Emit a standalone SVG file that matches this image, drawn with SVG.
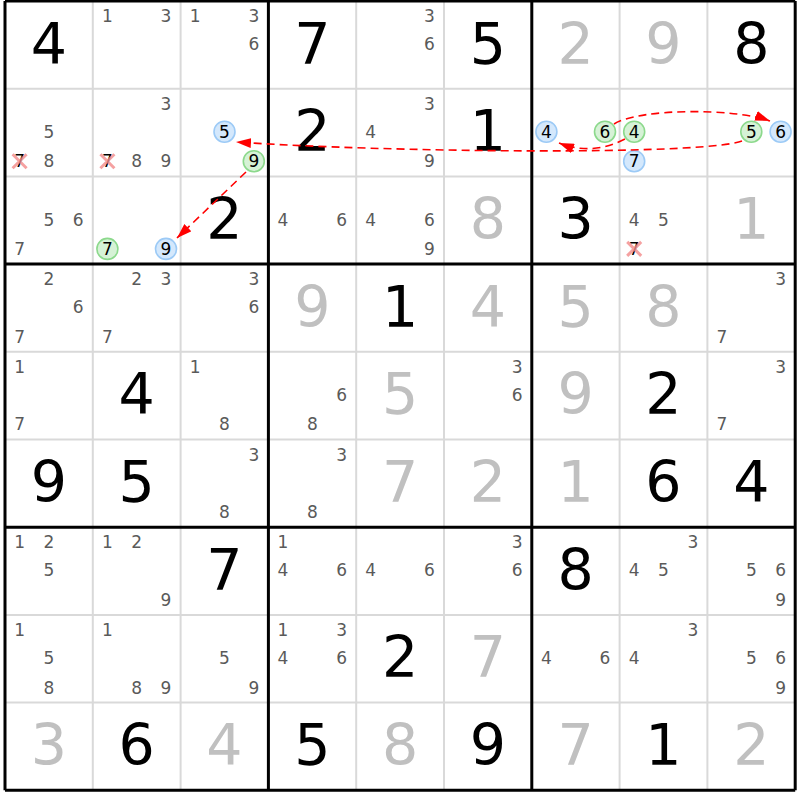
<svg xmlns="http://www.w3.org/2000/svg" width="800" height="800" viewBox="0 0 800 800">
<defs>
<style>
text{font-family:"DejaVu Sans","Liberation Sans",sans-serif;text-anchor:middle}
.g{font-size:57px;fill:#000}
.s{font-size:57px;fill:#c0c0c0}
.c{font-size:17px;fill:#5a5a5a}
.h{font-size:17px;fill:#000}
.cb{fill:#d4e8fc;stroke:#9ccaf6;stroke-width:1.6}
.cg{fill:#d6f2d6;stroke:#8cd98c;stroke-width:1.6}
.x{stroke:#f28a8a;stroke-width:3;stroke-opacity:0.8}
.thin{stroke:#d9d9d9;stroke-width:2}
.thick{stroke:#000;stroke-width:3}
.link{fill:none;stroke:#ff0000;stroke-width:1.6;stroke-dasharray:8,5;marker-end:url(#ah)}
</style>
<marker id="ah" markerUnits="userSpaceOnUse" markerWidth="15" markerHeight="10" refX="15" refY="5" orient="auto">
<path d="M0,0 L15,5 L0,10 z" fill="#ff0000"/>
</marker>
</defs>
<rect width="800" height="800" fill="#fff"/>
<g id="grid">
<path class="thin" d="M92.8,1V790.3M180.6,1V790.3M356.2,1V790.3M444,1V790.3M619.6,1V790.3M707.4,1V790.3M5,88.7H795.2M5,176.4H795.2M5,351.8H795.2M5,439.5H795.2M5,614.9H795.2M5,702.6H795.2"/>
<path class="thick" d="M5,1V790.3M268.4,1V790.3M531.8,1V790.3M795.2,1V790.3M5,1H795.2M5,264.1H795.2M5,527.2H795.2M5,790.3H795.2"/>
</g>
<g id="cells">
<!-- Row 1 -->
<g id="r1c1" transform="translate(5,1)"><text class="g" x="43.9" y="62.5">4</text></g>
<g id="r1c2" transform="translate(92.8,1)"><text class="c" x="14.6" y="21.2">1</text><text class="c" x="73.2" y="21.2">3</text></g>
<g id="r1c3" transform="translate(180.6,1)"><text class="c" x="14.6" y="21.2">1</text><text class="c" x="73.2" y="21.2">3</text><text class="c" x="73.2" y="49.2">6</text></g>
<g id="r1c4" transform="translate(268.4,1)"><text class="g" x="43.9" y="62.5">7</text></g>
<g id="r1c5" transform="translate(356.2,1)"><text class="c" x="73.2" y="21.2">3</text><text class="c" x="73.2" y="49.2">6</text></g>
<g id="r1c6" transform="translate(444,1)"><text class="g" x="43.9" y="62.5">5</text></g>
<g id="r1c7" transform="translate(531.8,1)"><text class="s" x="43.9" y="62.5">2</text></g>
<g id="r1c8" transform="translate(619.6,1)"><text class="s" x="43.9" y="62.5">9</text></g>
<g id="r1c9" transform="translate(707.4,1)"><text class="g" x="43.9" y="62.5">8</text></g>
<!-- Row 2 -->
<g id="r2c1" transform="translate(5,88.7)"><text class="c" x="43.9" y="49.2">5</text><text class="h" x="14.6" y="78.7">7</text><path class="x" d="M7.6,65.5L21.6,79.5M21.6,65.5L7.6,79.5"/><text class="c" x="43.9" y="78.7">8</text></g>
<g id="r2c2" transform="translate(92.8,88.7)"><text class="c" x="73.2" y="21.2">3</text><text class="h" x="14.6" y="78.7">7</text><path class="x" d="M7.6,65.5L21.6,79.5M21.6,65.5L7.6,79.5"/><text class="c" x="43.9" y="78.7">8</text><text class="c" x="73.2" y="78.7">9</text></g>
<g id="r2c3" transform="translate(180.6,88.7)"><circle class="cb" cx="43.9" cy="43" r="10.5"/><text class="h" x="43.9" y="49.2">5</text><circle class="cg" cx="73.2" cy="72.5" r="10.5"/><text class="h" x="73.2" y="78.7">9</text></g>
<g id="r2c4" transform="translate(268.4,88.7)"><text class="g" x="43.9" y="62.5">2</text></g>
<g id="r2c5" transform="translate(356.2,88.7)"><text class="c" x="73.2" y="21.2">3</text><text class="c" x="14.6" y="49.2">4</text><text class="c" x="73.2" y="78.7">9</text></g>
<g id="r2c6" transform="translate(444,88.7)"><text class="g" x="43.9" y="62.5">1</text></g>
<g id="r2c7" transform="translate(531.8,88.7)"><circle class="cb" cx="14.6" cy="43" r="10.5"/><text class="h" x="14.6" y="49.2">4</text><circle class="cg" cx="73.2" cy="43" r="10.5"/><text class="h" x="73.2" y="49.2">6</text></g>
<g id="r2c8" transform="translate(619.6,88.7)"><circle class="cg" cx="14.6" cy="43" r="10.5"/><text class="h" x="14.6" y="49.2">4</text><circle class="cb" cx="14.6" cy="72.5" r="10.5"/><text class="h" x="14.6" y="78.7">7</text></g>
<g id="r2c9" transform="translate(707.4,88.7)"><circle class="cg" cx="43.9" cy="43" r="10.5"/><text class="h" x="43.9" y="49.2">5</text><circle class="cb" cx="73.2" cy="43" r="10.5"/><text class="h" x="73.2" y="49.2">6</text></g>
<!-- Row 3 -->
<g id="r3c1" transform="translate(5,176.4)"><text class="c" x="43.9" y="49.2">5</text><text class="c" x="73.2" y="49.2">6</text><text class="c" x="14.6" y="78.7">7</text></g>
<g id="r3c2" transform="translate(92.8,176.4)"><circle class="cg" cx="14.6" cy="72.5" r="10.5"/><text class="h" x="14.6" y="78.7">7</text><circle class="cb" cx="73.2" cy="72.5" r="10.5"/><text class="h" x="73.2" y="78.7">9</text></g>
<g id="r3c3" transform="translate(180.6,176.4)"><text class="g" x="43.9" y="62.5">2</text></g>
<g id="r3c4" transform="translate(268.4,176.4)"><text class="c" x="14.6" y="49.2">4</text><text class="c" x="73.2" y="49.2">6</text></g>
<g id="r3c5" transform="translate(356.2,176.4)"><text class="c" x="14.6" y="49.2">4</text><text class="c" x="73.2" y="49.2">6</text><text class="c" x="73.2" y="78.7">9</text></g>
<g id="r3c6" transform="translate(444,176.4)"><text class="s" x="43.9" y="62.5">8</text></g>
<g id="r3c7" transform="translate(531.8,176.4)"><text class="g" x="43.9" y="62.5">3</text></g>
<g id="r3c8" transform="translate(619.6,176.4)"><text class="c" x="14.6" y="49.2">4</text><text class="c" x="43.9" y="49.2">5</text><text class="h" x="14.6" y="78.7">7</text><path class="x" d="M7.6,65.5L21.6,79.5M21.6,65.5L7.6,79.5"/></g>
<g id="r3c9" transform="translate(707.4,176.4)"><text class="s" x="43.9" y="62.5">1</text></g>
<!-- Row 4 -->
<g id="r4c1" transform="translate(5,264.1)"><text class="c" x="43.9" y="21.2">2</text><text class="c" x="73.2" y="49.2">6</text><text class="c" x="14.6" y="78.7">7</text></g>
<g id="r4c2" transform="translate(92.8,264.1)"><text class="c" x="43.9" y="21.2">2</text><text class="c" x="73.2" y="21.2">3</text><text class="c" x="14.6" y="78.7">7</text></g>
<g id="r4c3" transform="translate(180.6,264.1)"><text class="c" x="73.2" y="21.2">3</text><text class="c" x="73.2" y="49.2">6</text></g>
<g id="r4c4" transform="translate(268.4,264.1)"><text class="s" x="43.9" y="62.5">9</text></g>
<g id="r4c5" transform="translate(356.2,264.1)"><text class="g" x="43.9" y="62.5">1</text></g>
<g id="r4c6" transform="translate(444,264.1)"><text class="s" x="43.9" y="62.5">4</text></g>
<g id="r4c7" transform="translate(531.8,264.1)"><text class="s" x="43.9" y="62.5">5</text></g>
<g id="r4c8" transform="translate(619.6,264.1)"><text class="s" x="43.9" y="62.5">8</text></g>
<g id="r4c9" transform="translate(707.4,264.1)"><text class="c" x="73.2" y="21.2">3</text><text class="c" x="14.6" y="78.7">7</text></g>
<!-- Row 5 -->
<g id="r5c1" transform="translate(5,351.8)"><text class="c" x="14.6" y="21.2">1</text><text class="c" x="14.6" y="78.7">7</text></g>
<g id="r5c2" transform="translate(92.8,351.8)"><text class="g" x="43.9" y="62.5">4</text></g>
<g id="r5c3" transform="translate(180.6,351.8)"><text class="c" x="14.6" y="21.2">1</text><text class="c" x="43.9" y="78.7">8</text></g>
<g id="r5c4" transform="translate(268.4,351.8)"><text class="c" x="73.2" y="49.2">6</text><text class="c" x="43.9" y="78.7">8</text></g>
<g id="r5c5" transform="translate(356.2,351.8)"><text class="s" x="43.9" y="62.5">5</text></g>
<g id="r5c6" transform="translate(444,351.8)"><text class="c" x="73.2" y="21.2">3</text><text class="c" x="73.2" y="49.2">6</text></g>
<g id="r5c7" transform="translate(531.8,351.8)"><text class="s" x="43.9" y="62.5">9</text></g>
<g id="r5c8" transform="translate(619.6,351.8)"><text class="g" x="43.9" y="62.5">2</text></g>
<g id="r5c9" transform="translate(707.4,351.8)"><text class="c" x="73.2" y="21.2">3</text><text class="c" x="14.6" y="78.7">7</text></g>
<!-- Row 6 -->
<g id="r6c1" transform="translate(5,439.5)"><text class="g" x="43.9" y="62.5">9</text></g>
<g id="r6c2" transform="translate(92.8,439.5)"><text class="g" x="43.9" y="62.5">5</text></g>
<g id="r6c3" transform="translate(180.6,439.5)"><text class="c" x="73.2" y="21.2">3</text><text class="c" x="43.9" y="78.7">8</text></g>
<g id="r6c4" transform="translate(268.4,439.5)"><text class="c" x="73.2" y="21.2">3</text><text class="c" x="43.9" y="78.7">8</text></g>
<g id="r6c5" transform="translate(356.2,439.5)"><text class="s" x="43.9" y="62.5">7</text></g>
<g id="r6c6" transform="translate(444,439.5)"><text class="s" x="43.9" y="62.5">2</text></g>
<g id="r6c7" transform="translate(531.8,439.5)"><text class="s" x="43.9" y="62.5">1</text></g>
<g id="r6c8" transform="translate(619.6,439.5)"><text class="g" x="43.9" y="62.5">6</text></g>
<g id="r6c9" transform="translate(707.4,439.5)"><text class="g" x="43.9" y="62.5">4</text></g>
<!-- Row 7 -->
<g id="r7c1" transform="translate(5,527.2)"><text class="c" x="14.6" y="21.2">1</text><text class="c" x="43.9" y="21.2">2</text><text class="c" x="43.9" y="49.2">5</text></g>
<g id="r7c2" transform="translate(92.8,527.2)"><text class="c" x="14.6" y="21.2">1</text><text class="c" x="43.9" y="21.2">2</text><text class="c" x="73.2" y="78.7">9</text></g>
<g id="r7c3" transform="translate(180.6,527.2)"><text class="g" x="43.9" y="62.5">7</text></g>
<g id="r7c4" transform="translate(268.4,527.2)"><text class="c" x="14.6" y="21.2">1</text><text class="c" x="14.6" y="49.2">4</text><text class="c" x="73.2" y="49.2">6</text></g>
<g id="r7c5" transform="translate(356.2,527.2)"><text class="c" x="14.6" y="49.2">4</text><text class="c" x="73.2" y="49.2">6</text></g>
<g id="r7c6" transform="translate(444,527.2)"><text class="c" x="73.2" y="21.2">3</text><text class="c" x="73.2" y="49.2">6</text></g>
<g id="r7c7" transform="translate(531.8,527.2)"><text class="g" x="43.9" y="62.5">8</text></g>
<g id="r7c8" transform="translate(619.6,527.2)"><text class="c" x="73.2" y="21.2">3</text><text class="c" x="14.6" y="49.2">4</text><text class="c" x="43.9" y="49.2">5</text></g>
<g id="r7c9" transform="translate(707.4,527.2)"><text class="c" x="43.9" y="49.2">5</text><text class="c" x="73.2" y="49.2">6</text><text class="c" x="73.2" y="78.7">9</text></g>
<!-- Row 8 -->
<g id="r8c1" transform="translate(5,614.9)"><text class="c" x="14.6" y="21.2">1</text><text class="c" x="43.9" y="49.2">5</text><text class="c" x="43.9" y="78.7">8</text></g>
<g id="r8c2" transform="translate(92.8,614.9)"><text class="c" x="14.6" y="21.2">1</text><text class="c" x="43.9" y="78.7">8</text><text class="c" x="73.2" y="78.7">9</text></g>
<g id="r8c3" transform="translate(180.6,614.9)"><text class="c" x="43.9" y="49.2">5</text><text class="c" x="73.2" y="78.7">9</text></g>
<g id="r8c4" transform="translate(268.4,614.9)"><text class="c" x="14.6" y="21.2">1</text><text class="c" x="73.2" y="21.2">3</text><text class="c" x="14.6" y="49.2">4</text><text class="c" x="73.2" y="49.2">6</text></g>
<g id="r8c5" transform="translate(356.2,614.9)"><text class="g" x="43.9" y="62.5">2</text></g>
<g id="r8c6" transform="translate(444,614.9)"><text class="s" x="43.9" y="62.5">7</text></g>
<g id="r8c7" transform="translate(531.8,614.9)"><text class="c" x="14.6" y="49.2">4</text><text class="c" x="73.2" y="49.2">6</text></g>
<g id="r8c8" transform="translate(619.6,614.9)"><text class="c" x="73.2" y="21.2">3</text><text class="c" x="14.6" y="49.2">4</text></g>
<g id="r8c9" transform="translate(707.4,614.9)"><text class="c" x="43.9" y="49.2">5</text><text class="c" x="73.2" y="49.2">6</text><text class="c" x="73.2" y="78.7">9</text></g>
<!-- Row 9 -->
<g id="r9c1" transform="translate(5,702.6)"><text class="s" x="43.9" y="62.5">3</text></g>
<g id="r9c2" transform="translate(92.8,702.6)"><text class="g" x="43.9" y="62.5">6</text></g>
<g id="r9c3" transform="translate(180.6,702.6)"><text class="s" x="43.9" y="62.5">4</text></g>
<g id="r9c4" transform="translate(268.4,702.6)"><text class="g" x="43.9" y="62.5">5</text></g>
<g id="r9c5" transform="translate(356.2,702.6)"><text class="s" x="43.9" y="62.5">8</text></g>
<g id="r9c6" transform="translate(444,702.6)"><text class="g" x="43.9" y="62.5">9</text></g>
<g id="r9c7" transform="translate(531.8,702.6)"><text class="s" x="43.9" y="62.5">7</text></g>
<g id="r9c8" transform="translate(619.6,702.6)"><text class="g" x="43.9" y="62.5">1</text></g>
<g id="r9c9" transform="translate(707.4,702.6)"><text class="s" x="43.9" y="62.5">2</text></g>
</g>
<g id="connectors">
<path class="link" d="M625,139 Q592,156 559,143"/>
<path class="link" d="M614,124 C640,108 735,108 770,121"/>
<path class="link" d="M742,141 C700,156 380,152 236,142"/>
<path class="link" d="M246,172 L177,238"/>
</g>
</svg>
